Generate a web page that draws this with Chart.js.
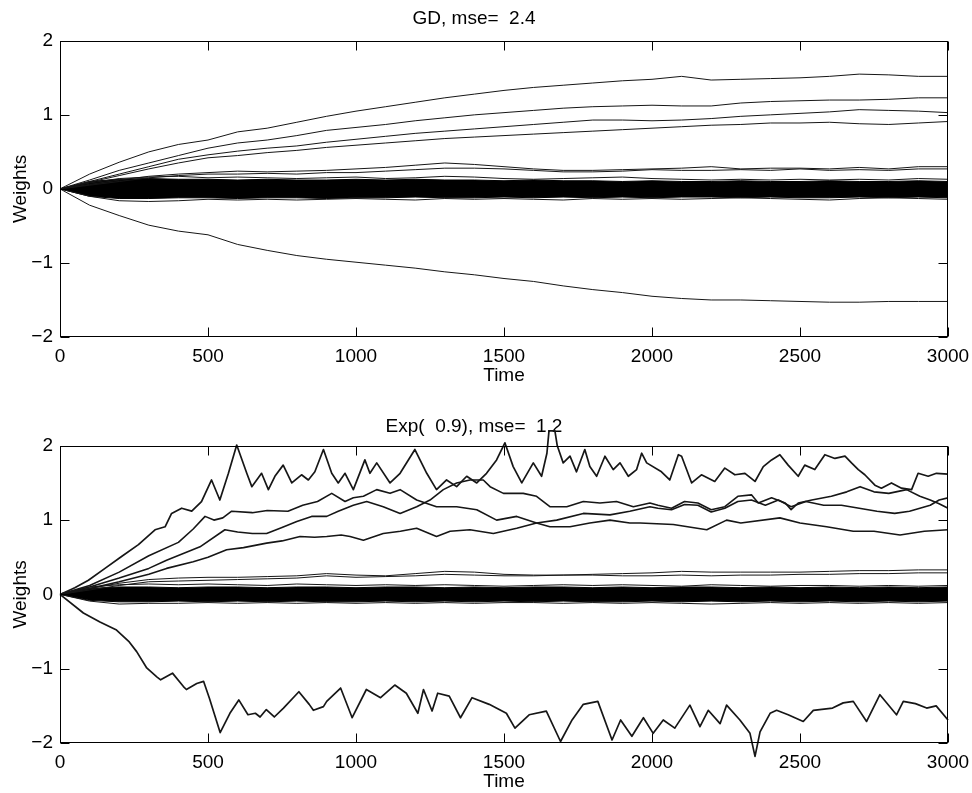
<!DOCTYPE html>
<html>
<head>
<meta charset="utf-8">
<script src="https://cdn.jsdelivr.net/npm/chart.js"></script>
<style>
html, body { margin: 0; padding: 0; background: #fff; }
#wrap { position: relative; width: 972px; height: 793px; }
canvas { position: absolute; left: 0; }
#gd { top: 0; }
#exp { top: 393px; }
</style>
</head>
<body>
<div id="wrap">
  <canvas id="gd" width="972" height="393"></canvas>
  <canvas id="exp" width="972" height="400"></canvas>
</div>
<script>
// ==================================== data

const xTicks = [0, 500, 1000, 1500, 2000, 2500, 3000]
const yTicks = [-2, -1, 0, 1, 2]
const gdTitle = 'GD, mse=  2.4'
const expTitle = 'Exp(  0.9), mse=  1.2'

// time grid (every 100 steps) for the smooth GD weights and the flat ones
const time100 = [0, 100, 200, 300, 400, 500, 600, 700, 800, 900, 1000, 1100, 1200, 1300, 1400, 1500,
    1600, 1700, 1800, 1900, 2000, 2100, 2200, 2300, 2400, 2500, 2600, 2700, 2800, 2900, 3000]

// top panel, GD
const gdUp1 = [0, 0.2, 0.36, 0.5, 0.6, 0.66, 0.77, 0.82, 0.9, 0.98, 1.05, 1.11, 1.17, 1.23, 1.28, 1.33,
    1.37, 1.4, 1.43, 1.46, 1.48, 1.52, 1.47, 1.48, 1.49, 1.5, 1.52, 1.55, 1.54, 1.52, 1.52]
const gdUp2 = [0, 0.12, 0.25, 0.35, 0.45, 0.55, 0.62, 0.66, 0.72, 0.79, 0.83, 0.87, 0.92, 0.96, 1.0, 1.03,
    1.06, 1.09, 1.11, 1.12, 1.13, 1.12, 1.12, 1.16, 1.18, 1.19, 1.2, 1.2, 1.21, 1.23, 1.23]
const gdUp3 = [0, 0.1, 0.2, 0.3, 0.4, 0.46, 0.51, 0.55, 0.58, 0.63, 0.67, 0.71, 0.75, 0.78, 0.81, 0.84,
    0.87, 0.9, 0.93, 0.93, 0.92, 0.93, 0.95, 0.98, 1.0, 1.02, 1.04, 1.07, 1.06, 1.05, 1.03]
const gdUp4 = [0, 0.09, 0.18, 0.27, 0.35, 0.42, 0.45, 0.49, 0.52, 0.56, 0.59, 0.62, 0.65, 0.68, 0.7, 0.72,
    0.74, 0.76, 0.78, 0.8, 0.82, 0.84, 0.86, 0.87, 0.89, 0.89, 0.9, 0.88, 0.87, 0.89, 0.91]
const gdDown = [0, -0.22, -0.36, -0.49, -0.57, -0.62, -0.75, -0.83, -0.9, -0.95, -0.99, -1.03, -1.07, -1.12, -1.16, -1.21,
    -1.25, -1.31, -1.36, -1.4, -1.45, -1.48, -1.5, -1.5, -1.51, -1.52, -1.53, -1.53, -1.52, -1.52, -1.52]
const gdLow1 = [0, 0.06, 0.12, 0.17, 0.2, 0.22, 0.24, 0.23, 0.24, 0.25, 0.27, 0.29, 0.32, 0.35, 0.33, 0.3,
    0.27, 0.25, 0.25, 0.26, 0.27, 0.28, 0.3, 0.27, 0.28, 0.28, 0.27, 0.29, 0.27, 0.3, 0.3]
const gdLow2 = [0, 0.05, 0.1, 0.15, 0.18, 0.2, 0.2, 0.21, 0.2, 0.22, 0.22, 0.24, 0.26, 0.28, 0.28, 0.27,
    0.25, 0.23, 0.23, 0.24, 0.26, 0.25, 0.25, 0.26, 0.25, 0.27, 0.25, 0.26, 0.25, 0.27, 0.27]
// the dense bundle of near-zero weights: upper / lower edge, plus stray lines at its rim
const gdBandHi = [0, 0.1, 0.13, 0.14, 0.13, 0.13, 0.12, 0.13, 0.12, 0.12, 0.13, 0.12, 0.13, 0.12, 0.12, 0.11,
    0.12, 0.11, 0.11, 0.1, 0.11, 0.1, 0.1, 0.11, 0.1, 0.1, 0.11, 0.1, 0.1, 0.11, 0.1]
const gdBandLo = [0, -0.1, -0.13, -0.13, -0.12, -0.12, -0.13, -0.12, -0.12, -0.13, -0.12, -0.12, -0.11, -0.12, -0.12, -0.11,
    -0.12, -0.11, -0.12, -0.11, -0.12, -0.11, -0.11, -0.12, -0.11, -0.12, -0.12, -0.11, -0.12, -0.11, -0.12]
const gdRimHi = [0, 0.08, 0.14, 0.16, 0.17, 0.15, 0.16, 0.15, 0.14, 0.15, 0.16, 0.14, 0.15, 0.17, 0.16, 0.14,
    0.13, 0.14, 0.15, 0.16, 0.14, 0.13, 0.12, 0.13, 0.12, 0.13, 0.12, 0.13, 0.12, 0.14, 0.13]
const gdRimLo = [0, -0.1, -0.16, -0.17, -0.16, -0.14, -0.15, -0.14, -0.15, -0.14, -0.13, -0.14, -0.15, -0.13, -0.14, -0.13,
    -0.14, -0.15, -0.13, -0.14, -0.13, -0.14, -0.13, -0.12, -0.13, -0.14, -0.15, -0.13, -0.12, -0.13, -0.14]

// bottom panel, Exp(0.9): noisy weights as [time, weight] pairs
const expUp1 = [[0, 0], [50, 0.09], [96, 0.19], [152, 0.35], [208, 0.51], [265, 0.67], [321, 0.87], [355, 0.91],
    [377, 1.09], [411, 1.16], [445, 1.12], [478, 1.25], [512, 1.54], [540, 1.27], [569, 1.63], [597, 2.01],
    [631, 1.63], [648, 1.45], [681, 1.63], [704, 1.41], [726, 1.59], [754, 1.74], [783, 1.5], [816, 1.61],
    [839, 1.54], [861, 1.65], [890, 1.95], [918, 1.63], [940, 1.5], [963, 1.63], [991, 1.41], [1030, 1.81],
    [1047, 1.63], [1070, 1.77], [1115, 1.5], [1149, 1.63], [1199, 1.95], [1239, 1.63], [1272, 1.41], [1306, 1.54],
    [1340, 1.45], [1374, 1.59], [1408, 1.5], [1441, 1.63], [1475, 1.81], [1503, 2.04], [1531, 1.72], [1560, 1.5],
    [1599, 1.77], [1627, 1.59], [1645, 1.9], [1652, 2.2], [1672, 2.2], [1680, 2.0], [1700, 1.77], [1723, 1.86],
    [1745, 1.65], [1773, 1.95], [1790, 1.72], [1813, 1.59], [1841, 1.86], [1869, 1.68], [1892, 1.77], [1920, 1.59],
    [1948, 1.68], [1965, 1.9], [1982, 1.77], [2032, 1.65], [2060, 1.54], [2089, 1.88], [2100, 1.86], [2134, 1.5],
    [2167, 1.61], [2212, 1.52], [2246, 1.7], [2280, 1.61], [2314, 1.63], [2348, 1.52], [2376, 1.72], [2404, 1.81],
    [2432, 1.88], [2460, 1.74], [2494, 1.59], [2516, 1.74], [2550, 1.68], [2584, 1.88], [2618, 1.83], [2652, 1.86],
    [2674, 1.77], [2697, 1.68], [2719, 1.61], [2753, 1.47], [2775, 1.43], [2809, 1.5], [2843, 1.43], [2877, 1.41],
    [2899, 1.63], [2933, 1.59], [2961, 1.63], [3000, 1.62]]
const expUp2 = [[0, 0], [100, 0.12], [200, 0.3], [300, 0.52], [400, 0.7], [450, 0.88], [490, 1.05], [520, 1.0],
    [550, 1.03], [580, 1.12], [650, 1.1], [700, 1.13], [770, 1.12], [820, 1.2], [870, 1.25], [918, 1.36],
    [963, 1.25], [991, 1.3], [1025, 1.32], [1070, 1.41], [1115, 1.36], [1149, 1.41], [1205, 1.27], [1272, 1.18],
    [1340, 1.18], [1408, 1.14], [1475, 1.0], [1543, 1.05], [1610, 0.96], [1655, 0.91], [1723, 0.91], [1790, 0.96],
    [1858, 1.0], [1925, 0.96], [1960, 0.96], [2072, 0.94], [2185, 0.87], [2252, 1.0], [2300, 0.96], [2432, 1.03],
    [2500, 0.96], [2590, 0.91], [2680, 0.85], [2750, 0.85], [2838, 0.8], [2920, 0.85], [3000, 0.87]]
const expUp3 = [[0, 0], [100, 0.1], [200, 0.22], [300, 0.35], [360, 0.46], [473, 0.64], [557, 0.87], [600, 0.84],
    [650, 0.82], [698, 0.82], [750, 0.9], [800, 0.98], [850, 1.05], [901, 1.05], [940, 1.12], [991, 1.2],
    [1036, 1.25], [1092, 1.18], [1149, 1.09], [1205, 1.18], [1250, 1.27], [1295, 1.41], [1340, 1.5], [1385, 1.54],
    [1430, 1.54], [1453, 1.45], [1498, 1.36], [1565, 1.36], [1610, 1.32], [1655, 1.18], [1712, 1.18], [1768, 1.25],
    [1824, 1.23], [1880, 1.25], [1937, 1.18], [1993, 1.23], [2020, 1.2], [2066, 1.16], [2110, 1.25], [2155, 1.23],
    [2200, 1.14], [2246, 1.18], [2290, 1.32], [2336, 1.34], [2359, 1.23], [2404, 1.3], [2450, 1.23], [2470, 1.14],
    [2494, 1.23], [2540, 1.27], [2606, 1.32], [2658, 1.38], [2703, 1.45], [2750, 1.38], [2800, 1.36], [2860, 1.41],
    [2905, 1.32], [2940, 1.27], [2970, 1.22], [3000, 1.16]]
const expUp4 = [[0, 0], [100, 0.08], [200, 0.17], [300, 0.27], [360, 0.35], [450, 0.44], [500, 0.5], [563, 0.6],
    [620, 0.63], [698, 0.69], [750, 0.72], [811, 0.78], [860, 0.77], [901, 0.78], [950, 0.8], [980, 0.78],
    [1025, 0.73], [1092, 0.82], [1150, 0.85], [1205, 0.89], [1272, 0.78], [1318, 0.85], [1385, 0.87], [1464, 0.82],
    [1543, 0.89], [1610, 0.96], [1678, 1.0], [1768, 1.09], [1858, 1.07], [1925, 1.12], [1993, 1.18], [2020, 1.16],
    [2066, 1.14], [2110, 1.21], [2155, 1.2], [2200, 1.11], [2246, 1.16], [2290, 1.25], [2336, 1.27], [2383, 1.2],
    [2427, 1.27], [2470, 1.18], [2520, 1.25], [2580, 1.2], [2640, 1.2], [2700, 1.16], [2760, 1.12], [2820, 1.09],
    [2870, 1.12], [2940, 1.2], [2970, 1.27], [3000, 1.3]]
const expDown = [[0, 0], [79, -0.25], [135, -0.37], [191, -0.48], [234, -0.64], [259, -0.77], [293, -0.99], [327, -1.11],
    [340, -1.15], [380, -1.06], [417, -1.24], [427, -1.28], [462, -1.2], [485, -1.17], [505, -1.4], [541, -1.86],
    [574, -1.6], [604, -1.42], [635, -1.62], [660, -1.6], [676, -1.65], [697, -1.55], [724, -1.65], [755, -1.53],
    [807, -1.31], [842, -1.48], [856, -1.56], [890, -1.51], [901, -1.44], [948, -1.26], [987, -1.66], [1035, -1.28],
    [1083, -1.39], [1131, -1.22], [1170, -1.33], [1209, -1.6], [1228, -1.28], [1257, -1.57], [1276, -1.33], [1315, -1.37],
    [1353, -1.66], [1392, -1.39], [1450, -1.48], [1508, -1.6], [1537, -1.8], [1585, -1.62], [1643, -1.57], [1691, -1.98],
    [1730, -1.69], [1768, -1.48], [1817, -1.44], [1865, -1.96], [1894, -1.69], [1932, -1.91], [1971, -1.66], [2004, -1.87],
    [2038, -1.69], [2077, -1.8], [2128, -1.49], [2162, -1.78], [2190, -1.56], [2230, -1.74], [2252, -1.49], [2297, -1.69],
    [2331, -1.87], [2348, -2.18], [2365, -1.85], [2399, -1.6], [2421, -1.56], [2460, -1.62], [2511, -1.71], [2545, -1.56],
    [2610, -1.53], [2646, -1.46], [2680, -1.44], [2725, -1.71], [2770, -1.35], [2826, -1.62], [2849, -1.44], [2890, -1.47],
    [2928, -1.53], [2960, -1.5], [3000, -1.69]]
const expLow1 = [0, 0.08, 0.15, 0.2, 0.22, 0.23, 0.23, 0.24, 0.25, 0.28, 0.26, 0.25, 0.28, 0.31, 0.3, 0.27,
    0.26, 0.26, 0.27, 0.28, 0.29, 0.31, 0.3, 0.3, 0.3, 0.3, 0.31, 0.32, 0.32, 0.33, 0.33]
const expLow2 = [0, 0.06, 0.12, 0.17, 0.18, 0.19, 0.2, 0.21, 0.22, 0.25, 0.23, 0.24, 0.25, 0.27, 0.26, 0.25,
    0.25, 0.26, 0.26, 0.25, 0.25, 0.26, 0.25, 0.26, 0.26, 0.27, 0.27, 0.28, 0.28, 0.29, 0.29]
const expBandHi = [0, 0.08, 0.1, 0.1, 0.09, 0.1, 0.1, 0.09, 0.1, 0.1, 0.09, 0.1, 0.1, 0.09, 0.1, 0.09,
    0.1, 0.1, 0.09, 0.1, 0.09, 0.1, 0.1, 0.09, 0.1, 0.09, 0.1, 0.09, 0.1, 0.09, 0.1]
const expBandLo = [0, -0.08, -0.1, -0.1, -0.09, -0.1, -0.09, -0.1, -0.09, -0.1, -0.1, -0.09, -0.1, -0.09, -0.1, -0.09,
    -0.1, -0.09, -0.1, -0.1, -0.09, -0.1, -0.09, -0.1, -0.09, -0.1, -0.09, -0.1, -0.09, -0.1, -0.09]
const expRimHi = [0, 0.1, 0.13, 0.14, 0.13, 0.14, 0.13, 0.12, 0.14, 0.13, 0.12, 0.13, 0.12, 0.13, 0.12, 0.11,
    0.12, 0.13, 0.12, 0.13, 0.12, 0.11, 0.13, 0.12, 0.11, 0.12, 0.12, 0.11, 0.12, 0.11, 0.12]
const expRimLo = [0, -0.09, -0.13, -0.12, -0.12, -0.11, -0.12, -0.11, -0.12, -0.11, -0.12, -0.11, -0.12, -0.11, -0.12, -0.11,
    -0.11, -0.12, -0.11, -0.12, -0.11, -0.12, -0.13, -0.12, -0.11, -0.12, -0.11, -0.12, -0.11, -0.12, -0.11]

// ==================================== helpers

const INK = '#161616'
const FONT = '"Liberation Sans", Arial, Helvetica, sans-serif'

const onGrid = values => values.map((w, i) => ({ x: time100[i], y: w }))
const fromPairs = pairs => pairs.map(([t, w]) => ({ x: t, y: w }))

function line(data, width, clip) {
    return {
        data,
        borderColor: INK,
        borderWidth: width,
        borderJoinStyle: 'round',
        pointRadius: 0,
        fill: false,
        tension: 0,
        clip: clip === false ? false : undefined
    }
}

// lower edge first, upper edge filled down to it; put last so it sits under the lines
function band(lo, hi) {
    return [
        { data: onGrid(lo), borderColor: '#000', borderWidth: 1, pointRadius: 0, fill: false },
        { data: onGrid(hi), borderColor: '#000', borderWidth: 1, pointRadius: 0, fill: '-1', backgroundColor: '#000' }
    ]
}

// matlab-like box with ticks pointing inside
const boxTicks = {
    id: 'boxTicks',
    afterDraw(chart) {
        const { ctx, chartArea: a, scales: { x, y } } = chart
        const l = Math.round(a.left) + 0.5, r = Math.round(a.right) - 0.5
        const t = Math.round(a.top) + 0.5, b = Math.round(a.bottom) - 0.5
        const len = 9
        ctx.save()
        ctx.strokeStyle = '#000'
        ctx.lineWidth = 1
        ctx.strokeRect(l, t, r - l, b - t)
        ctx.beginPath()
        x.ticks.forEach(tk => {
            const px = Math.round(x.getPixelForValue(tk.value)) + 0.5
            ctx.moveTo(px, b); ctx.lineTo(px, b - len)
            ctx.moveTo(px, t); ctx.lineTo(px, t + len)
        })
        y.ticks.forEach(tk => {
            const py = Math.round(y.getPixelForValue(tk.value)) + 0.5
            ctx.moveTo(l, py); ctx.lineTo(l + len, py)
            ctx.moveTo(r, py); ctx.lineTo(r - len, py)
        })
        ctx.stroke()
        ctx.restore()
    }
}

function makePanel(canvas, title, titlePad, xAxisHeight, timePad, datasets) {
    return new Chart(canvas, {
        type: 'line',
        data: { datasets },
        plugins: [boxTicks],
        options: {
            responsive: false,
            animation: false,
            devicePixelRatio: 1,
            layout: { padding: { left: 0, right: 24, top: 0, bottom: 0 } },
            plugins: {
                legend: { display: false },
                tooltip: { enabled: false },
                title: {
                    display: true,
                    text: title,
                    color: '#000',
                    font: { family: FONT, size: 19, weight: 'normal', lineHeight: 1.2 },
                    padding: titlePad
                }
            },
            scales: {
                x: {
                    type: 'linear',
                    min: 0,
                    max: 3000,
                    afterBuildTicks: s => { s.ticks = xTicks.map(v => ({ value: v })) },
                    afterFit: s => {
                        s.height = xAxisHeight
                        s.paddingLeft = 0
                        s.paddingRight = 0
                    },
                    grid: { display: false, drawTicks: false },
                    border: { display: false },
                    ticks: {
                        color: '#000', padding: 8, maxRotation: 0, font: { family: FONT, size: 19 },
                        callback: v => String(v)
                    },
                    title: {
                        display: true, text: 'Time', color: '#000',
                        font: { family: FONT, size: 19, lineHeight: 1.2 },
                        padding: { top: 0, bottom: timePad }
                    }
                },
                y: {
                    min: -2,
                    max: 2,
                    afterBuildTicks: s => { s.ticks = yTicks.map(v => ({ value: v })) },
                    afterFit: s => {
                        s.width = 60
                        s.paddingTop = 0
                        s.paddingBottom = 0
                    },
                    grid: { display: false, drawTicks: false },
                    border: { display: false },
                    ticks: {
                        color: '#000', padding: 7, font: { family: FONT, size: 19 },
                        callback: v => (v < 0 ? '\u2212' + Math.abs(v) : String(v))
                    },
                    title: {
                        display: true, text: 'Weights', color: '#000',
                        font: { family: FONT, size: 19, lineHeight: 1.2 },
                        padding: { top: 9, bottom: 0 }
                    }
                }
            }
        }
    })
}

// ==================================== panels

makePanel(document.querySelector('#gd'), gdTitle, { top: 7, bottom: 11 }, 56, 6, [
    line(onGrid(gdUp1), 1),
    line(onGrid(gdUp2), 1),
    line(onGrid(gdUp3), 1),
    line(onGrid(gdUp4), 1),
    line(onGrid(gdDown), 1),
    line(onGrid(gdLow1), 1),
    line(onGrid(gdLow2), 1),
    line(onGrid(gdRimHi), 1),
    line(onGrid(gdRimLo), 1),
    ...band(gdBandLo, gdBandHi)
])

makePanel(document.querySelector('#exp'), expTitle, { top: 22, bottom: 8 }, 50, 0, [
    line(fromPairs(expUp1), 1.7, false),
    line(fromPairs(expUp2), 1.6),
    line(fromPairs(expUp3), 1.6),
    line(fromPairs(expUp4), 1.6),
    line(fromPairs(expDown), 1.7, false),
    line(onGrid(expLow1), 1),
    line(onGrid(expLow2), 1),
    line(onGrid(expRimHi), 1),
    line(onGrid(expRimLo), 1),
    ...band(expBandLo, expBandHi)
])
</script>
</body>
</html>
